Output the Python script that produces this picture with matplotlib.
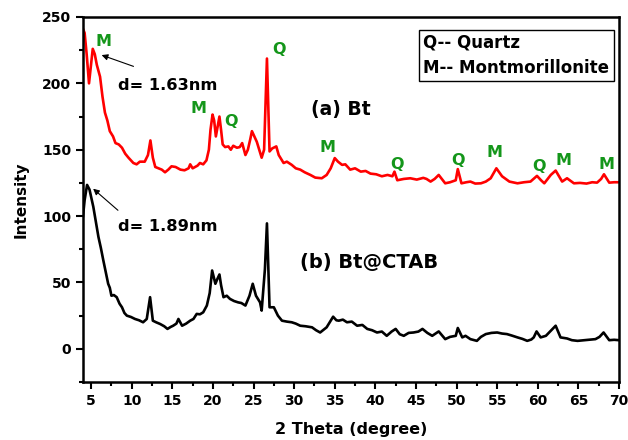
import matplotlib
matplotlib.use('Agg')
import matplotlib.pyplot as plt
from matplotlib.patches import Rectangle
from matplotlib.ticker import MultipleLocator

# Bt (red) pattern
bt_theta = [4.0, 4.2, 4.45, 4.74, 4.95, 5.2, 5.45, 5.7, 6.1, 6.4, 6.7, 7.0, 7.3, 7.7,
            8.0, 8.4, 8.8, 9.2, 9.6, 10.2, 10.6, 11.0, 11.6, 12.0, 12.3, 12.6, 12.9,
            13.3, 13.7, 14.1, 14.5, 14.9, 15.4, 16.0, 16.5, 17.0, 17.2, 17.5, 17.8,
            18.1, 18.4, 18.8, 19.2, 19.5, 19.7, 19.95, 20.15, 20.36, 20.6, 20.8, 21.0,
            21.2, 21.5, 21.9, 22.2, 22.5, 22.95, 23.3, 23.6, 24.0, 24.3, 24.6, 24.8,
            25.1, 25.4, 25.8, 26.0, 26.3, 26.5, 26.65, 26.8, 26.97, 27.3, 27.8, 28.1,
            28.7, 29.1, 29.7, 30.2, 30.75, 31.3, 32.0, 32.6, 33.4, 34.0, 34.5, 35.0,
            35.4, 35.9, 36.3, 36.9, 37.5, 38.2, 38.8, 39.4, 40.1, 40.8, 41.5, 42.1,
            42.35, 42.7, 43.5, 44.3, 45.1, 45.9, 46.3, 46.8, 47.3, 47.8, 48.6, 49.2,
            49.9, 50.15, 50.6, 51.2, 51.7, 52.3, 53.0, 53.6, 54.2, 54.9, 55.6, 56.5,
            57.5, 58.3, 59.1, 59.9, 60.4, 60.8, 61.6, 62.2, 63.0, 63.6, 64.45, 65.2,
            66.0, 66.7, 67.3, 67.8, 68.15, 68.8, 69.4, 70.0]
bt_int = [241, 238, 222, 200, 212, 226, 222, 214, 205, 190, 178, 172, 164, 160,
          155, 154, 151.5, 147, 144, 140, 139, 141, 141, 146, 157, 144, 137,
          136, 135, 133, 135, 137.5, 137, 135, 134.5, 136, 139, 136, 137,
          138, 140, 139, 142, 150, 165, 176.5, 172, 160, 168, 175, 165,
          154, 152, 152.5, 150, 153, 151.5, 152, 155, 146, 150, 158, 164,
          160, 156, 148, 144, 150, 190, 218.7, 185, 148.7, 151, 152.5, 146,
          140, 141, 138.6, 136, 135, 133, 131, 129, 128.5, 131, 136, 143.7,
          141, 138.6, 139, 135, 136, 133.5, 134, 132, 131.5, 130, 131, 130,
          133.5, 127, 128, 128.5, 127.5, 128.8, 128, 126, 128, 131, 124.7, 125.5,
          127, 135.4, 124.7, 125.5, 126, 124.5, 124.7, 126, 128.5, 136, 130, 126,
          124.7, 125.5, 126, 130.3, 127, 124.7, 131, 134.3, 126, 128.5, 124.7, 125,
          124.5, 125.5, 125.2, 128, 131.5, 125.2, 125.5, 125.5]

# Bt@CTAB (black) pattern
ctab_theta = [4.0, 4.2, 4.5, 4.8, 5.27, 5.6, 5.9, 6.2, 6.5, 6.8, 7.1, 7.3, 7.5, 7.8,
              8.15, 8.5, 8.8, 9.1, 9.4, 9.9, 10.4, 10.9, 11.4, 11.85, 12.26, 12.6,
              13.0, 13.5, 14.0, 14.4, 14.8, 15.1, 15.5, 15.75, 16.2, 16.7, 17.2,
              17.6, 18.0, 18.4, 18.8, 19.25, 19.6, 19.9, 20.3, 20.5, 20.8, 21.0,
              21.3, 21.7, 22.1, 22.6, 23.1, 23.5, 24.0, 24.5, 24.9, 25.3, 25.8,
              26.0, 26.4, 26.65, 26.8, 26.97, 27.5, 28.0, 28.5, 29.1, 29.7, 30.2,
              30.75, 31.4, 32.2, 32.7, 33.2, 34.0, 34.8, 35.2, 35.5, 36.0, 36.5,
              37.1, 37.75, 38.4, 39.0, 39.6, 40.2, 40.8, 41.4, 42.0, 42.5, 43.0,
              43.5, 44.1, 44.7, 45.3, 45.8, 46.4, 47.0, 47.8, 48.6, 49.2, 49.9,
              50.15, 50.7, 51.1, 51.7, 52.5, 53.0, 53.6, 54.3, 55.0, 55.6, 56.2,
              56.8, 57.5, 58.1, 58.7, 59.2, 59.5, 59.85, 60.35, 61.0, 61.6, 62.2,
              62.8, 63.6, 64.2, 64.9, 65.7, 66.4, 67.1, 67.6, 68.1, 68.8, 69.4, 70.0]
ctab_int = [100, 112, 123.5, 120, 107, 95, 84.3, 76, 66.7, 58, 49, 46, 40, 40.5,
            38.9, 34, 31.3, 27, 25, 24, 22.5, 21.5, 20, 22.5, 38.9, 21.2,
            20, 18.7, 17, 15, 16.5, 17.4, 19, 22.5, 17.4, 19, 21.2,
            22.5, 26.3, 26, 27.5, 32.6, 42, 59, 49, 52, 56, 48,
            38.9, 40, 37.6, 36, 35, 34.5, 32.6, 40, 49, 40, 35,
            28.8, 60, 94.5, 65, 31.3, 31.3, 25, 21.2, 20.5, 20, 19,
            17.4, 17, 16.2, 14, 12.3, 16.2, 24.2, 21.5, 21.2, 22, 20,
            20.5, 17.4, 18, 15, 14, 12.3, 13, 9.8, 13, 15, 11,
            9.8, 12, 12.3, 13, 15, 12, 9.8, 13.1, 7.3, 9, 9.8,
            15.7, 8.6, 9.8, 7.3, 6, 9, 11.1, 12, 12.3, 11.5, 11.1,
            10, 8.6, 7.5, 6, 7, 8.6, 13.1, 8.6, 9.8, 13.6, 17.4,
            8.6, 7.8, 6.5, 6, 6.5, 7, 7.3, 9, 12.3, 6.5, 6.8, 6.5]

# phase markers on the Bt pattern: (label, 2theta, intensity)
phase_labels = ['M', 'Q', 'M', 'Q', 'M', 'Q', 'Q', 'M', 'Q', 'M', 'M']
phase_theta = [6.47, 28.17, 18.18, 22.25, 34.09, 42.72, 50.12, 54.68, 60.1, 63.2, 68.5]
phase_int = [231.8, 225.8, 181, 171, 152, 138.6, 141.7, 147.7, 137, 141.7, 138.6]

green = '#14961a'
plt.rcParams['font.family'] = 'DejaVu Sans'
plt.rcParams['font.weight'] = 'bold'

fig = plt.figure(figsize=(6.28, 4.40), dpi=100)
ax = fig.add_axes([83 / 628, 58 / 440, 536 / 628, 365 / 440])

ax.plot(bt_theta, bt_int, color='red', lw=1.9)
ax.plot(ctab_theta, ctab_int, color='black', lw=1.9)

for lab, t, y in zip(phase_labels, phase_theta, phase_int):
    ax.text(t, y, lab, color=green, fontsize=11.5, fontweight='bold',
            ha='center', va='center')

# d-spacing annotations
ax.annotate('', xy=(5.97, 222), xytext=(10.54, 212.1),
            arrowprops=dict(arrowstyle='-|>', lw=0.8, color='black', mutation_scale=9))
ax.text(8.32, 198.5, 'd= 1.63nm', fontsize=11.7, fontweight='bold', va='center')
ax.annotate('', xy=(4.99, 122), xytext=(8.56, 103),
            arrowprops=dict(arrowstyle='-|>', lw=0.8, color='black', mutation_scale=9))
ax.text(8.32, 92.4, 'd= 1.89nm', fontsize=11.7, fontweight='bold', va='center')

ax.text(35.75, 180, '(a) Bt', fontsize=13.5, fontweight='bold', ha='center', va='center')
ax.text(39.2, 65, '(b) Bt@CTAB', fontsize=14, fontweight='bold', ha='center', va='center')

# key box
ax.add_patch(Rectangle((0.627, 0.8247), 0.364, 0.1393, transform=ax.transAxes,
                       fill=False, lw=1.0, edgecolor='black', zorder=5))
ax.text(0.634, 0.929, 'Q-- Quartz', transform=ax.transAxes, fontsize=12,
        fontweight='bold', va='center')
ax.text(0.634, 0.860, 'M-- Montmorillonite', transform=ax.transAxes, fontsize=12,
        fontweight='bold', va='center')

ax.set_xlim(4, 70)
ax.set_ylim(-25, 250)
ax.xaxis.set_major_locator(MultipleLocator(5))
ax.xaxis.set_minor_locator(MultipleLocator(2.5))
ax.yaxis.set_major_locator(MultipleLocator(50))
ax.yaxis.set_minor_locator(MultipleLocator(25))
ax.tick_params(which='both', direction='out', top=False, right=False,
               labelsize=10, width=1.5)
ax.tick_params(which='major', length=5)
ax.tick_params(which='minor', length=3)
for lab in ax.get_xticklabels() + ax.get_yticklabels():
    lab.set_fontweight('bold')
for spine in ax.spines.values():
    spine.set_linewidth(1.8)

ax.set_xlabel('2 Theta (degree)', fontsize=11.5, fontweight='bold', labelpad=10)
ax.set_ylabel('Intensity', fontsize=11, fontweight='bold', labelpad=10)

fig.savefig('out.png', dpi=100)
